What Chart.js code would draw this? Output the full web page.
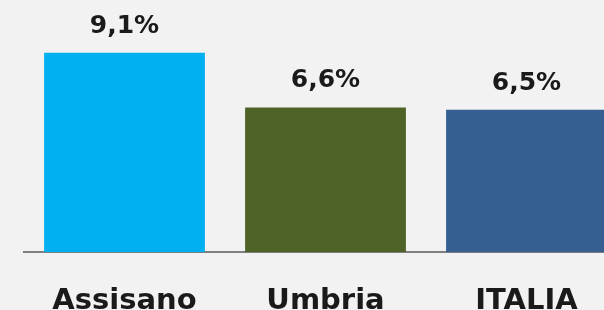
<!DOCTYPE html>
<html>
<head>
<meta charset="utf-8">
<script src="https://cdn.jsdelivr.net/npm/chart.js@4/dist/chart.umd.min.js"></script>
<style>
  html, body { margin: 0; padding: 0; background: #f2f2f2; overflow: hidden; width: 604px; height: 310px; }
  #wrap { position: absolute; left: 0; top: 0; width: 640px; height: 351px; }
</style>
</head>
<body>
<div id="wrap"><canvas id="chart"></canvas></div>
<script>
// categories and values
const categories = ['Assisano', 'Umbria', 'ITALIA'];
const values = [9.1, 6.6, 6.5];
const valueLabels = ['9,1%', '6,6%', '6,5%'];
const barColors = ['#00b0f0', '#4f6228', '#365f91'];

const FONT = 'DejaVu Sans';

// draws the value labels above each bar, using the bar elements' positions
const valueLabelPlugin = {
  id: 'valueLabels',
  afterDatasetsDraw(chart) {
    const ctx = chart.ctx;
    const meta = chart.getDatasetMeta(0);
    ctx.save();
    ctx.font = `bold 25px "${FONT}"`;
    ctx.fillStyle = '#1a1a1a';
    ctx.textAlign = 'center';
    ctx.textBaseline = 'alphabetic';
    meta.data.forEach((bar, i) => {
      ctx.fillText(valueLabels[i], bar.x, bar.y - 20);
    });
    ctx.restore();
  }
};

new Chart(document.getElementById('chart').getContext('2d'), {
  type: 'bar',
  data: {
    labels: categories,
    datasets: [{
      data: values,
      backgroundColor: barColors,
      borderWidth: 0,
      barPercentage: 0.8,
      categoryPercentage: 1.0
    }]
  },
  options: {
    responsive: true,
    maintainAspectRatio: false,
    animation: false,
    layout: { padding: { left: 24, right: 13, top: 0, bottom: 0 } },
    plugins: { legend: { display: false }, tooltip: { enabled: false } },
    scales: {
      x: {
        grid: { display: false, drawTicks: false },
        border: { display: true, color: '#7f7f7f', width: 2 },
        ticks: {
          padding: 32,
          color: '#1a1a1a',
          font: { family: FONT, size: 29, weight: 'bold' }
        }
      },
      y: {
        display: false,
        min: 0,
        max: 11.5
      }
    }
  },
  plugins: [valueLabelPlugin]
});
</script>
</body>
</html>
